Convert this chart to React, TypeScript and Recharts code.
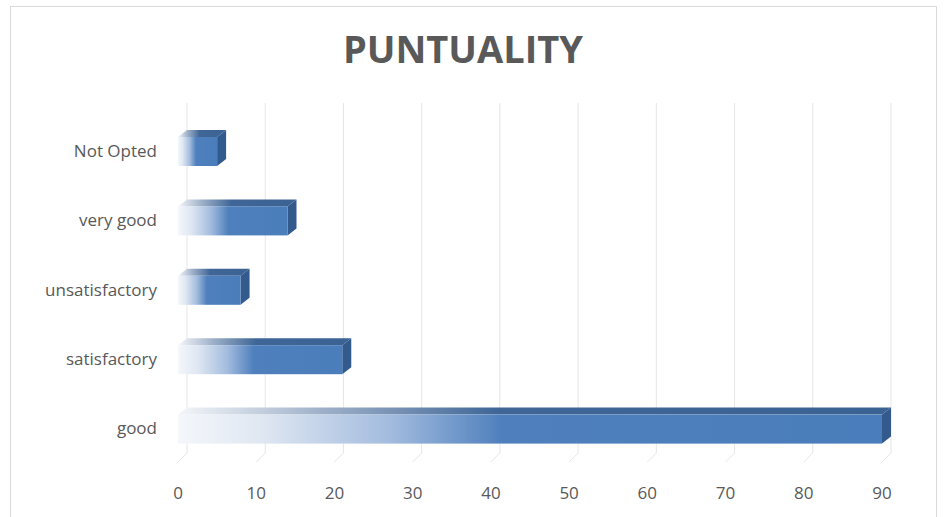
import { Bar, BarChart, CartesianGrid, XAxis, YAxis } from 'recharts'

const categories = ['Not Opted', 'very good', 'unsatisfactory', 'satisfactory', 'good']
const counts = [5, 14, 8, 21, 90]
const xTicks = [0, 10, 20, 30, 40, 50, 60, 70, 80, 90]

const chartData = categories.map((name, i) => ({ name, count: counts[i] }))

const DX = 9
const DY = 7
const TEXT = '#595959'
const FONT = '"Open Sans", "Noto Sans", sans-serif'

function Bar3D(props: any) {
  const { x, y, width, height } = props
  if (!width || width <= 0) return null
  const fy = y + DY
  const fh = height - DY
  const right = x + width
  return (
    <g>
      <path
        d={`M${x},${fy} L${x + DX},${y} L${right + DX},${y} L${right},${fy} Z`}
        fill="url(#topGrad)"
      />
      <path
        d={`M${right},${fy} L${right + DX},${y} L${right + DX},${y + fh} L${right},${fy + fh} Z`}
        fill="#325a8c"
      />
      <rect x={x} y={fy} width={width} height={fh} fill="url(#frontGrad)" />
    </g>
  )
}

function GridLine(props: any) {
  const { x1, y1, y2 } = props
  return (
    <g>
      <line x1={x1 + DX} y1={y1 - 10} x2={x1 + DX} y2={y2 - 7} stroke="#e6e6e6" strokeWidth={1} />
      <line x1={x1 + DX} y1={y2 - 7} x2={x1} y2={y2 + 2} stroke="#e6e6e6" strokeWidth={1} />
    </g>
  )
}

function XTick(props: any) {
  const { x, y, payload } = props
  return (
    <text x={x} y={y + 37} textAnchor="middle" fill={TEXT} fontSize={17} fontFamily={FONT}>
      {payload.value}
    </text>
  )
}

function YTick(props: any) {
  const { x, y, payload } = props
  return (
    <text x={x - 19} y={y + 9} textAnchor="end" fill={TEXT} fontSize={17} fontFamily={FONT}>
      {payload.value}
    </text>
  )
}

export default function App() {
  return (
    <div style={{ position: 'absolute', left: 0, top: 0, width: 945, height: 517, background: '#fff' }}>
      <div
        style={{
          position: 'absolute',
          left: 10,
          top: 6,
          width: 927,
          height: 520,
          border: '1px solid #d9d9d9',
          boxSizing: 'border-box',
        }}
      />
      <div
        style={{
          position: 'absolute',
          left: 0,
          top: 22,
          width: 926,
          textAlign: 'center',
          fontFamily: FONT,
          fontWeight: 700,
          fontSize: 38,
          lineHeight: '52px',
          color: TEXT,
        }}
      >
        PUNTUALITY
      </div>
      <BarChart
        width={945}
        height={517}
        data={chartData}
        layout="vertical"
        margin={{ top: 113, right: 63, bottom: 0, left: 0 }}
        barCategoryGap={0}
        style={{ position: 'absolute', left: 0, top: 0 }}
      >
        <defs>
          <linearGradient id="frontGrad" x1="0" y1="0" x2="1" y2="0">
            <stop offset="0%" stopColor="#f4f7fb" />
            <stop offset="12%" stopColor="#dfe7f2" />
            <stop offset="30%" stopColor="#a3bcde" />
            <stop offset="46%" stopColor="#4f80bd" />
            <stop offset="100%" stopColor="#4a7dbb" />
          </linearGradient>
          <linearGradient id="topGrad" x1="0" y1="0" x2="1" y2="0">
            <stop offset="0%" stopColor="#f4f6f9" />
            <stop offset="20%" stopColor="#9fb1c9" />
            <stop offset="45%" stopColor="#3f6697" />
            <stop offset="100%" stopColor="#3a6293" />
          </linearGradient>
        </defs>
        <CartesianGrid horizontal={false} vertical={(p: any) => <GridLine {...p} />} />
        <XAxis
          type="number"
          domain={[0, 90]}
          ticks={xTicks}
          axisLine={false}
          tickLine={false}
          tickSize={0}
          height={57}
          tick={<XTick />}
          interval={0}
        />
        <YAxis
          type="category"
          dataKey="name"
          width={178}
          axisLine={false}
          tickLine={false}
          tickSize={0}
          tick={<YTick />}
          interval={0}
        />
        <Bar dataKey="count" barSize={36} shape={<Bar3D />} isAnimationActive={false} />
      </BarChart>
    </div>
  )
}
